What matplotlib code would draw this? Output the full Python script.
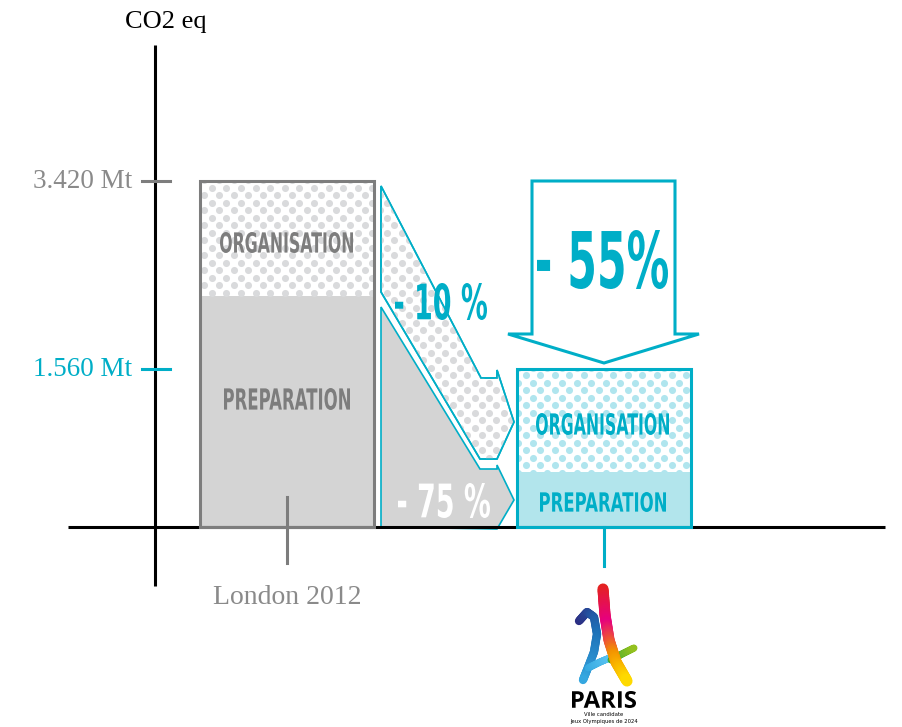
import numpy as np
import matplotlib
matplotlib.use('Agg')
import matplotlib.pyplot as plt
from matplotlib.textpath import TextPath
from matplotlib.font_manager import FontProperties
from matplotlib.patches import PathPatch, Polygon
from matplotlib.collections import LineCollection
from matplotlib.transforms import Affine2D
from matplotlib.colors import LinearSegmentedColormap

# données (Mt CO2 eq)
categories = ['London 2012', 'Paris 2024']
preparation = [2.28, 0.54]
organisation = [1.14, 1.02]
tick_values = [3.42, 1.56]
tick_labels = ['3.420 Mt', '1.560 Mt']
segment_labels = ['ORGANISATION', 'PREPARATION']
reductions = ['- 10 %', '- 75 %', '- 55%']

W, H = 902, 727
BASE = 527                 # ligne de base en pixels
PPM = 346 / 3.42           # pixels par Mt
CYAN = '#00AEC7'
GREY = '#7d7d7d'
LIGHT_CYAN = '#B2E5EC'
LIGHT_GREY = '#D4D4D4'


def py(v):
    # pixel (depuis le haut) -> Mt
    return (BASE - v) / PPM


def pix(val):
    return BASE - val * PPM


fig = plt.figure(figsize=(W / 100, H / 100), dpi=100)
ax = fig.add_axes([0, 0, 1, 1])
ax.set_xlim(0, W)
ax.set_ylim(py(H), py(0))
ax.axis('off')

cond = FontProperties(family=['Liberation Sans Narrow', 'DejaVu Sans'], weight='bold')
sans = FontProperties(family=['Open Sans', 'DejaVu Sans'], weight='bold')


def box_text(s, x0, x1, y0, y1, color, prop=cond):
    tp = TextPath((0, 0), s, size=100, prop=prop)
    ext = tp.get_extents()
    sx = (x1 - x0) / ext.width
    sy = (y1 - y0) / ext.height
    tr = Affine2D().translate(-ext.x0, -ext.y0).scale(sx, sy).translate(x0, H - y1)
    p = PathPatch(tp, transform=tr, facecolor=color, edgecolor='none', zorder=10)
    fig.add_artist(p)


def dots(patch, x0, x1, y0, y1, color):
    xs, ys = [], []
    for k in range(int(y0 // 7.5) - 1, int(y1 // 7.5) + 2):
        off = 7.3 * (k % 2)
        for j in range(int(x0 // 14.6) - 1, int(x1 // 14.6) + 2):
            xs.append(j * 14.6 + off)
            ys.append(py(k * 7.5))
    sc = ax.scatter(xs, ys, s=26, color=color, linewidths=0, zorder=2)
    sc.set_clip_path(patch)


x_pos = [287, 604]
bw = 174

# barres
prep_bars = ax.bar(x_pos, preparation, width=bw, color=[LIGHT_GREY, LIGHT_CYAN], zorder=1)
org_bars = ax.bar(x_pos, organisation, width=bw, bottom=preparation, color='white', zorder=1)
dot_cols = ['#D9DADC', '#B0E5EE']
for i, b in enumerate(org_bars):
    dots(b, x_pos[i] - bw / 2, x_pos[i] + bw / 2, pix(preparation[i] + organisation[i]), pix(preparation[i]), dot_cols[i])
totals = [p + o for p, o in zip(preparation, organisation)]
ax.bar(x_pos, totals, width=bw, fill=False, edgecolor=[GREY, CYAN], linewidth=2.2, zorder=5)

# flèches de réduction
up = [(381, 186), (481, 378), (497, 378), (497, 370), (514, 422), (497, 459), (480, 459), (381, 292)]
low = [(381, 307), (480, 469), (497, 469), (497, 465), (514, 500), (497, 529), (381, 527)]
up_poly = Polygon([(x, py(y)) for x, y in up], closed=True, facecolor='white', edgecolor=CYAN, lw=1.2, zorder=1)
ax.add_patch(up_poly)
dots(up_poly, 381, 514, 186, 460, '#D9DADC')
ax.add_patch(Polygon([(x, py(y)) for x, y in up], closed=True, fill=False, edgecolor=CYAN, lw=1.2, zorder=3))
ax.add_patch(Polygon([(x, py(y)) for x, y in low], closed=True, facecolor=LIGHT_GREY, edgecolor=CYAN, lw=1.2, zorder=1))

big = [(532, 181), (675, 181), (675, 334), (699, 334), (604, 363), (508, 334), (532, 334)]
ax.add_patch(Polygon([(x, py(y)) for x, y in big], closed=True, facecolor='white', edgecolor=CYAN, lw=2.2, zorder=3))

# axes
ax.plot([155, 155], [py(45), py(586)], color='black', lw=2.2, zorder=4, solid_capstyle='butt')
ax.plot([68, 885], [0, 0], color='black', lw=2.2, zorder=4, solid_capstyle='butt')
tick_cols = [GREY, CYAN]
for v, lab, c in zip(tick_values, tick_labels, tick_cols):
    ax.plot([142, 170], [v, v], color=c, lw=2.2, zorder=4)
    ax.text(132, v, lab, ha='right', va='center', fontsize=19.5, color=c if c == CYAN else '#8a8a8a',
            family='Liberation Serif')
ax.text(166, py(22), 'CO2 eq', ha='center', va='center', fontsize=19, color='black', family='Liberation Serif')

# repères des catégories
ax.plot([287, 287], [py(497), py(563)], color=GREY, lw=2.2, zorder=6)
ax.plot([604, 604], [0, py(566)], color=CYAN, lw=2.2, zorder=6)
ax.text(287, py(598), categories[0], ha='center', va='center', fontsize=20, color='#8a8a8a',
        family='Liberation Serif')

# libellés
box_text(segment_labels[0], 220, 353, 232, 253, GREY)
box_text(segment_labels[1], 224, 350, 388, 410, GREY)
box_text(segment_labels[0], 536, 669, 413, 435, CYAN)
box_text(segment_labels[1], 540, 666, 492, 512, CYAN)
box_text(reductions[0], 395, 487, 283, 320, CYAN)
box_text(reductions[1], 398, 490, 483, 518, 'white')
box_text(reductions[2], 537, 668, 230, 289, CYAN)


# logo Paris 2024 (approximation)
def grad_line(pts, colors, lw):
    pts = np.array(pts, dtype=float)
    t = np.linspace(0, 1, 60)
    seg_t = np.linspace(0, 1, len(pts))
    xs = np.interp(t, seg_t, pts[:, 0])
    ys = np.interp(t, seg_t, pts[:, 1])
    xy = np.column_stack([xs, py(ys)])
    segs = np.stack([xy[:-1], xy[1:]], axis=1)
    cmap = LinearSegmentedColormap.from_list('g', colors)
    lc = LineCollection(segs, colors=cmap(t[:-1]), linewidths=lw, capstyle='round', zorder=6)
    ax.add_collection(lc)


grad_line([(579, 621), (587, 612), (594, 617), (597, 634), (594, 652), (587, 670), (583, 680)],
          ['#2C2E83', '#1D71B8', '#36A9E1'], 6)
grad_line([(588, 668), (600, 662), (612, 657)], ['#36A9E1', '#5BC5F2'], 5)
grad_line([(611, 660), (622, 654), (634, 648)], ['#3AAA35', '#95C11F'], 5)
grad_line([(603, 589), (605, 615), (609, 640), (616, 662), (627, 681)],
          ['#E42320', '#E6007E', '#F39200', '#FFDD00'], 8)
box_text('PARIS', 572, 636, 691, 708, 'black', prop=sans)
ax.text(604, py(715), 'Ville candidate', ha='center', va='center', fontsize=3.8, color='black')
ax.text(604, py(722), 'Jeux Olympiques de 2024', ha='center', va='center', fontsize=3.8, color='black')

fig.savefig('out.png', dpi=100)
